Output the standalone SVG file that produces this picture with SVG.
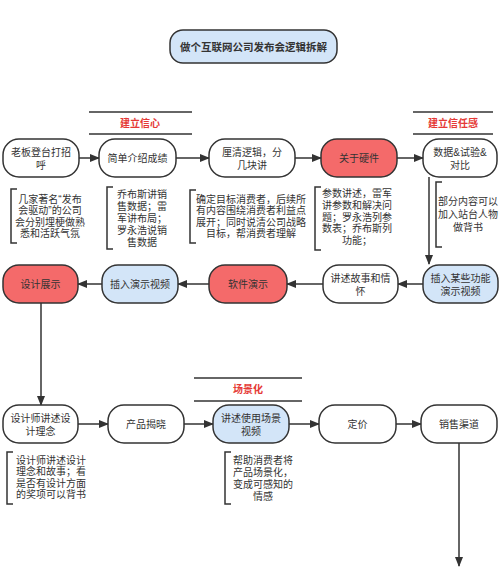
<svg xmlns="http://www.w3.org/2000/svg" width="500" height="567" viewBox="0 0 500 567">
<defs>
<marker id="ah" markerWidth="10" markerHeight="8" refX="9" refY="4" orient="auto" markerUnits="userSpaceOnUse">
<path d="M0,0 L10,4 L0,8 Z" fill="#333"/>
</marker>
<style>
text{font-family:"Liberation Sans","Noto Sans CJK SC",sans-serif;fill:#333;text-anchor:middle;dominant-baseline:central}
.n{fill:#fff;stroke:#333;stroke-width:1.5}
.r{fill:#f46a6a;stroke:#333;stroke-width:1.5}
.b{fill:#d3e5f8;stroke:#333;stroke-width:1.5}
.t{font-size:10px}
.a{font-size:10px}
.h{font-size:10px;font-weight:bold;fill:#e53935}
.ln{stroke:#333;stroke-width:1.5;fill:none}
.br{stroke:#333;stroke-width:1.5;fill:none}
.c{stroke:#333;stroke-width:1.5;fill:none;marker-end:url(#ah)}
</style>
</defs>
<rect width="500" height="567" fill="#fff"/>

<g id="title">
<rect x="170" y="30" width="167" height="33" rx="13" class="b"/>
<text x="253.5" y="46.5" style="font-size:10.5px;font-weight:bold">做个互联网公司发布会逻辑拆解</text>
</g>

<g id="header1">
<line x1="89" y1="112" x2="192" y2="112" class="ln"/>
<line x1="89" y1="134" x2="192" y2="134" class="ln"/>
<text x="140" y="123" class="h">建立信心</text>
</g>
<g id="header2">
<line x1="413" y1="112" x2="493" y2="112" class="ln"/>
<line x1="413" y1="134" x2="493" y2="134" class="ln"/>
<text x="453" y="123" class="h">建立信任感</text>
</g>
<g id="header3">
<line x1="194" y1="378" x2="302" y2="378" class="ln"/>
<line x1="194" y1="401" x2="302" y2="401" class="ln"/>
<text x="248" y="389.5" class="h">场景化</text>
</g>

<g id="connectors">
<line x1="79" y1="158" x2="99" y2="158" class="c"/>
<line x1="176" y1="158" x2="209" y2="158" class="c"/>
<line x1="295" y1="158" x2="321" y2="158" class="c"/>
<line x1="397" y1="158" x2="423" y2="158" class="c"/>
<line x1="429" y1="177" x2="429" y2="264" class="c"/>
<line x1="423" y1="284" x2="398" y2="284" class="c"/>
<line x1="323" y1="284" x2="287" y2="284" class="c"/>
<line x1="209" y1="284" x2="178" y2="284" class="c"/>
<line x1="102" y1="284" x2="78" y2="284" class="c"/>
<line x1="41" y1="303" x2="41" y2="405" class="c"/>
<line x1="78" y1="424" x2="108" y2="424" class="c"/>
<line x1="184" y1="424" x2="213" y2="424" class="c"/>
<line x1="289" y1="424" x2="319" y2="424" class="c"/>
<line x1="396" y1="424" x2="421" y2="424" class="c"/>
<line x1="459" y1="443" x2="459" y2="566" class="c"/>
</g>

<g id="n1"><rect x="3" y="139" width="76" height="38" rx="16" class="n"/>
<text class="t"><tspan x="41" y="152">老板登台打招</tspan><tspan x="41" y="164.5">呼</tspan></text></g>
<g id="n2"><rect x="99" y="139" width="77" height="38" rx="16" class="n"/>
<text x="137.5" y="158" class="t">简单介绍成绩</text></g>
<g id="n3"><rect x="209" y="139" width="86" height="38" rx="16" class="n"/>
<text class="t"><tspan x="252" y="152">厘清逻辑，分</tspan><tspan x="252" y="164.5">几块讲</tspan></text></g>
<g id="n4"><rect x="321" y="139" width="76" height="38" rx="16" class="r"/>
<text x="359" y="158" class="t">关于硬件</text></g>
<g id="n5"><rect x="423" y="139" width="74" height="38" rx="16" class="n"/>
<text class="t"><tspan x="460" y="152">数据&amp;试验&amp;</tspan><tspan x="460" y="164.5">对比</tspan></text></g>

<g id="a1"><path d="M17,189 H11 V243 H17" class="br"/>
<text class="a"><tspan x="50" y="199">几家著名“发布</tspan><tspan x="50" y="210.4">会驱动”的公司</tspan><tspan x="50" y="221.8">会分别埋梗做熟</tspan><tspan x="50" y="233.2">悉和活跃气氛</tspan></text></g>
<g id="a2"><path d="M113,187 H107 V249 H113" class="br"/>
<text class="a"><tspan x="142" y="194">乔布斯讲销</tspan><tspan x="142" y="206">售数据；雷</tspan><tspan x="142" y="218">军讲布局；</tspan><tspan x="142" y="230">罗永浩说销</tspan><tspan x="142" y="242">售数据</tspan></text></g>
<g id="a3"><path d="M196,190 H190 V243 H196" class="br"/>
<text class="a"><tspan x="251" y="199">确定目标消费者，后续所</tspan><tspan x="251" y="210.4">有内容围绕消费者利益点</tspan><tspan x="251" y="221.8">展开；同时说清公司战略</tspan><tspan x="251" y="233.2">目标，帮消费者理解</tspan></text></g>
<g id="a4"><path d="M321,187 H315 V250 H321" class="br"/>
<text class="a"><tspan x="357" y="193">参数讲述，雷军</tspan><tspan x="357" y="204.8">讲参数和解决问</tspan><tspan x="357" y="216.6">题；罗永浩列参</tspan><tspan x="357" y="228.4">数表；乔布斯列</tspan><tspan x="357" y="240.2">功能；</tspan></text></g>
<g id="a5"><path d="M442,182 H436 V247 H442" class="br"/>
<text class="a"><tspan x="468" y="201">部分内容可以</tspan><tspan x="468" y="214">加入站台人物</tspan><tspan x="468" y="227">做背书</tspan></text></g>

<g id="r2n1"><rect x="3" y="265" width="75" height="38" rx="16" class="r"/>
<text x="40.5" y="284" class="t">设计展示</text></g>
<g id="r2n2"><rect x="102" y="265" width="76" height="38" rx="16" class="b"/>
<text x="140" y="284" class="t">插入演示视频</text></g>
<g id="r2n3"><rect x="209" y="265" width="78" height="38" rx="16" class="r"/>
<text x="248" y="284" class="t">软件演示</text></g>
<g id="r2n4"><rect x="323" y="265" width="75" height="38" rx="16" class="n"/>
<text class="t"><tspan x="360.5" y="278">讲述故事和情</tspan><tspan x="360.5" y="290.5">怀</tspan></text></g>
<g id="r2n5"><rect x="423" y="265" width="75" height="38" rx="16" class="b"/>
<text class="t"><tspan x="460.5" y="278">插入某些功能</tspan><tspan x="460.5" y="290.5">演示视频</tspan></text></g>

<g id="r3n1"><rect x="3" y="405" width="75" height="38" rx="16" class="n"/>
<text class="t"><tspan x="40.5" y="418">设计师讲述设</tspan><tspan x="40.5" y="430.5">计理念</tspan></text></g>
<g id="r3n2"><rect x="108" y="405" width="76" height="38" rx="16" class="n"/>
<text x="146" y="424" class="t">产品揭晓</text></g>
<g id="r3n3"><rect x="213" y="405" width="76" height="38" rx="16" class="b"/>
<text class="t"><tspan x="251" y="418">讲述使用场景</tspan><tspan x="251" y="430.5">视频</tspan></text></g>
<g id="r3n4"><rect x="319" y="405" width="77" height="38" rx="16" class="n"/>
<text x="357.5" y="424" class="t">定价</text></g>
<g id="r3n5"><rect x="421" y="405" width="76" height="38" rx="16" class="n"/>
<text x="459" y="424" class="t">销售渠道</text></g>

<g id="a6"><path d="M13,452 H7 V504 H13" class="br"/>
<text class="a"><tspan x="51" y="460">设计师讲述设计</tspan><tspan x="51" y="471.4">理念和故事；看</tspan><tspan x="51" y="482.8">是否有设计方面</tspan><tspan x="51" y="494.2">的奖项可以背书</tspan></text></g>
<g id="a7"><path d="M231,452 H225 V504 H231" class="br"/>
<text class="a"><tspan x="263" y="460">帮助消费者将</tspan><tspan x="263" y="472">产品场景化，</tspan><tspan x="263" y="484">变成可感知的</tspan><tspan x="263" y="496">情感</tspan></text></g>
</svg>
